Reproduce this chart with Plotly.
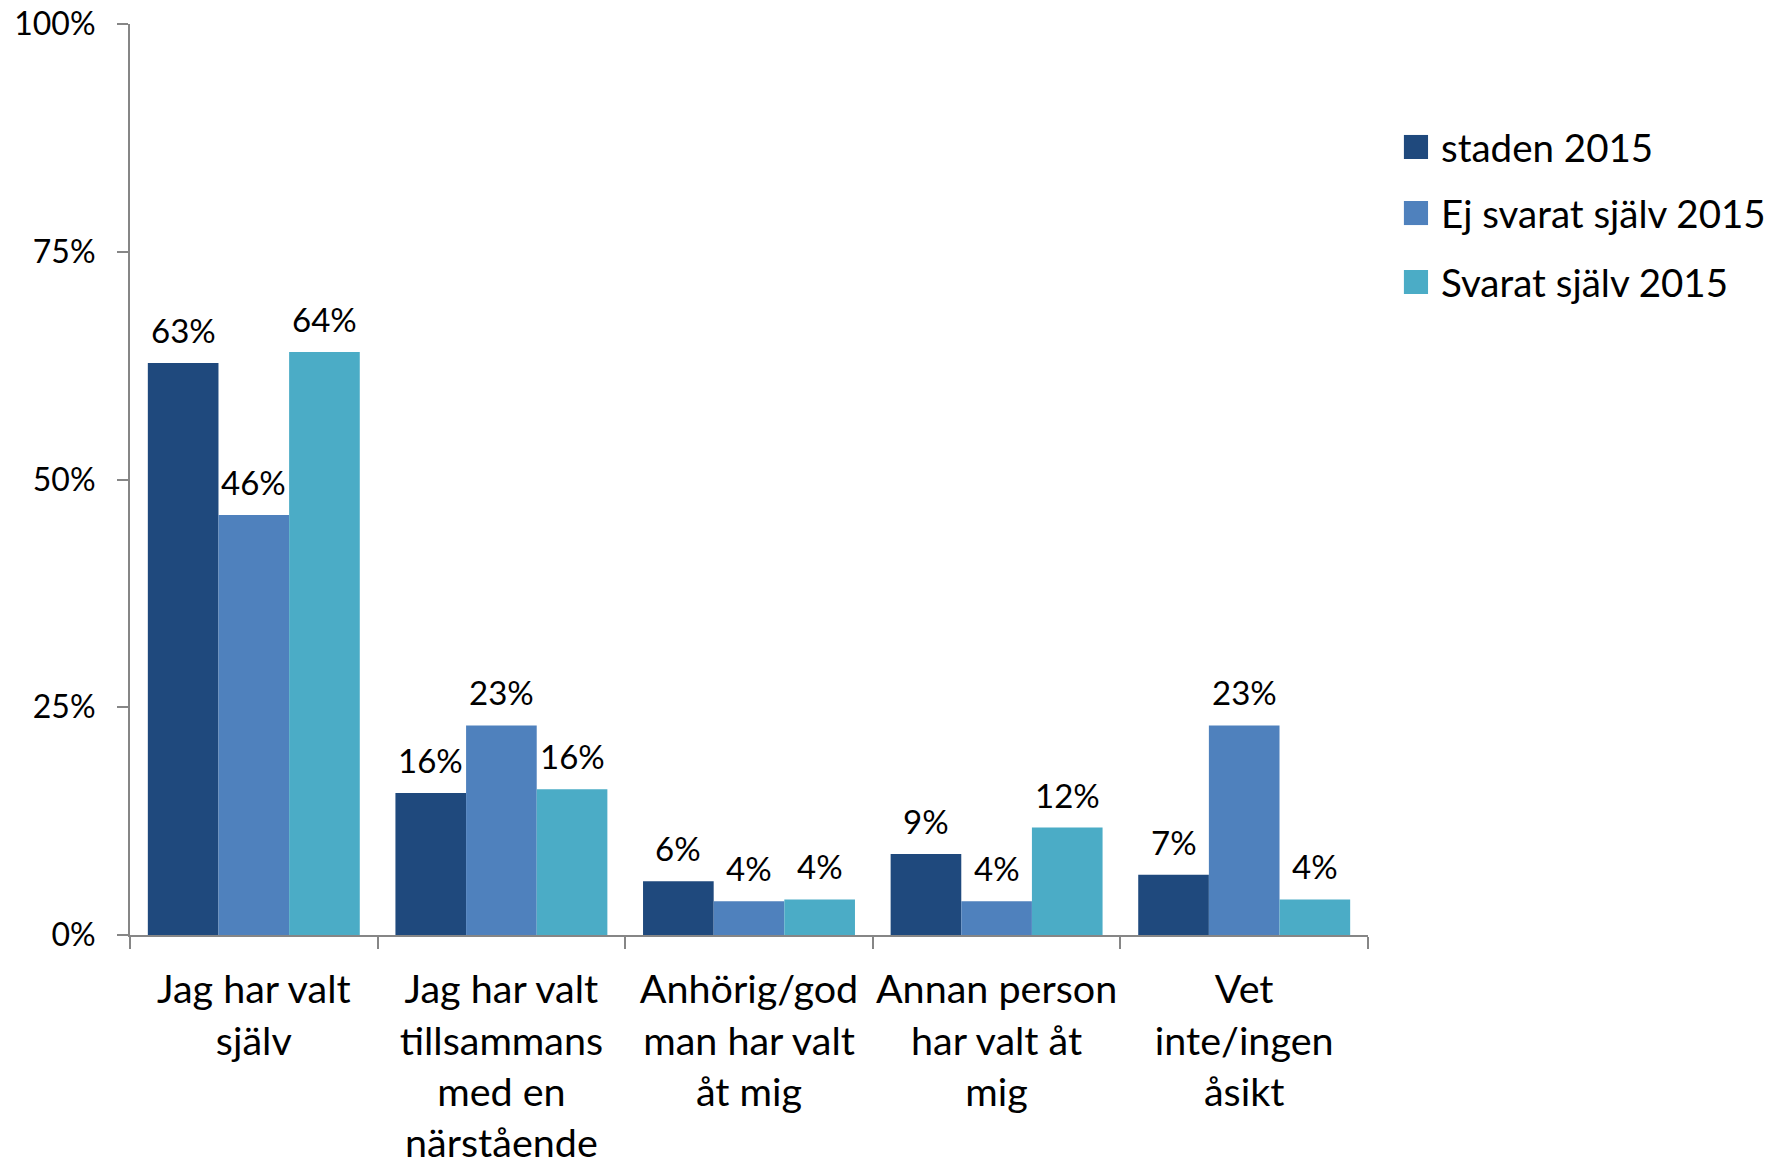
import plotly.graph_objects as go

# Survey answers: who chose the service provider (share of respondents)
categories = [
    "Jag har valt<br>själv",
    "Jag har valt<br>tillsammans<br>med en<br>närstående",
    "Anhörig/god<br>man har valt<br>åt mig",
    "Annan person<br>har valt åt<br>mig",
    "Vet<br>inte/ingen<br>åsikt",
]
series_names = ["staden 2015", "Ej svarat själv 2015", "Svarat själv 2015"]
staden_2015 = [62.8, 15.6, 5.9, 8.9, 6.6]
ej_svarat_sjalv_2015 = [46.1, 23.0, 3.7, 3.7, 23.0]
svarat_sjalv_2015 = [64.0, 16.0, 3.9, 11.8, 3.9]
y_ticks = [0, 25, 50, 75, 100]
y_tick_labels = ["0%", "25%", "50%", "75%", "100%"]

series_values = [staden_2015, ej_svarat_sjalv_2015, svarat_sjalv_2015]
colors = ["#1F497D", "#4F81BD", "#4BACC6"]

FONT = "Lato"
AXIS_COLOR = "#868686"
BARGAP = 0.144

fig = go.Figure()
for name, vals, col in zip(series_names, series_values, colors):
    fig.add_trace(go.Bar(
        x=categories, y=vals, name=name,
        marker=dict(color=col, line=dict(width=0)),
        showlegend=False,
    ))

# value labels above each bar
annotations = []
n_series = len(series_values)
bar_w = (1 - BARGAP) / n_series
for s, vals in enumerate(series_values):
    offset = (s - (n_series - 1) / 2) * bar_w
    for i, v in enumerate(vals):
        annotations.append(dict(
            x=i + offset, y=v, xref="x", yref="y",
            text=f"{v:.0f}%", showarrow=False,
            xanchor="center", yanchor="bottom", yshift=11,
            font=dict(family=FONT, size=33, color="#000000"),
        ))

# legend: colour squares with series names
legend_rows_y = [0.865, 0.7925, 0.7168]
shapes = []
for name, col, ry in zip(series_names, colors, legend_rows_y):
    shapes.append(dict(
        type="rect", xref="paper", yref="paper",
        x0=1.029, x1=1.0485, y0=ry - 0.0132, y1=ry + 0.0132,
        fillcolor=col, line=dict(width=0),
    ))
    annotations.append(dict(
        x=1.0574, y=ry, xref="paper", yref="paper",
        text=name, showarrow=False, xanchor="left", yanchor="middle",
        font=dict(family=FONT, size=38.5, color="#000000"),
    ))

fig.update_layout(
    width=1781, height=1164,
    margin=dict(l=130, r=413, t=24, b=229),
    paper_bgcolor="white", plot_bgcolor="white",
    barmode="group", bargap=BARGAP, bargroupgap=0,
    annotations=annotations, shapes=shapes,
    font=dict(family=FONT, color="#000000"),
)
fig.update_xaxes(
    showline=True, linecolor=AXIS_COLOR, linewidth=2,
    ticks="outside", tickson="boundaries", ticklen=12,
    tickcolor=AXIS_COLOR, tickwidth=2, tickangle=0,
    tickfont=dict(family=FONT, size=39.5, color="#000000"),
    ticklabelstandoff=19,
    showgrid=False, automargin=False,
)
fig.update_yaxes(
    range=[0, 100], tickvals=y_ticks, ticktext=y_tick_labels,
    showline=True, linecolor=AXIS_COLOR, linewidth=2,
    ticks="outside", ticklen=11, tickcolor=AXIS_COLOR, tickwidth=2,
    tickfont=dict(family=FONT, size=32, color="#000000"),
    ticklabelstandoff=15,
    showgrid=False, zeroline=False, automargin=False,
)

fig.write_html("out.html")
